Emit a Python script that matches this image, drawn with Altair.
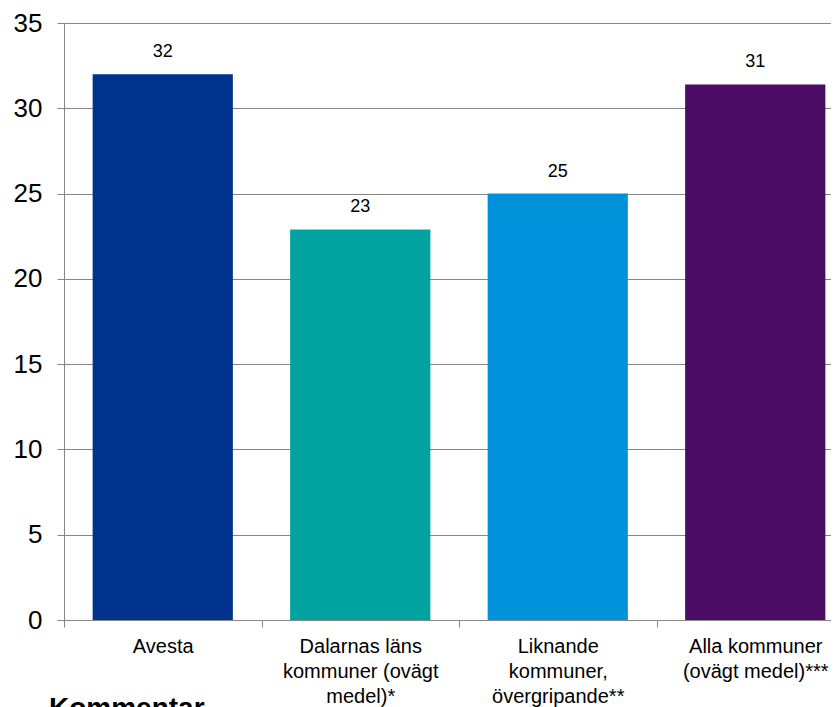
import altair as alt
import pandas as pd

categories = [
    "Avesta",
    "Dalarnas läns kommuner (ovägt medel)*",
    "Liknande kommuner, övergripande**",
    "Alla kommuner (ovägt medel)***",
]
label_lines = [
    ["Avesta"],
    ["Dalarnas läns", "kommuner (ovägt", "medel)*"],
    ["Liknande", "kommuner,", "övergripande**"],
    ["Alla kommuner", "(ovägt medel)***"],
]
values = [32.0, 22.9, 25.0, 31.4]
colors = ["#00338d", "#00a39f", "#0091db", "#4a0c64"]
y_ticks = [0, 5, 10, 15, 20, 25, 30, 35]
comment_text = "Kommentar"

df = pd.DataFrame({"kategori": categories, "varde": values})

# multi-line axis labels from label_lines
expr = "".join(
    f"datum.label == {repr(c)} ? {repr(l)} : " for c, l in zip(categories, label_lines)
) + "datum.label"

FONT = "Liberation Sans"
GRID = "#868686"

x_scale = alt.Scale(range=[0, 790], paddingInner=0, paddingOuter=0)
x_enc = alt.X(
    "kategori:N",
    sort=categories,
    scale=x_scale,
    axis=alt.Axis(
        title=None,
        labelAngle=0,
        labelExpr=expr,
        labelFont=FONT,
        labelFontSize=20,
        labelColor="#000000",
        labelLineHeight=25,
        labelPadding=9,
        labelLimit=0,
        tickBand="extent",
        tickSize=7,
        tickColor=GRID,
        domainColor=GRID,
        labelOverlap=False,
    ),
)
y_scale = alt.Scale(domain=[0, 35], nice=False, zero=True)

bars = alt.Chart(df).mark_bar(width=alt.RelativeBandSize(0.71)).encode(
    x=x_enc,
    y=alt.Y(
        "varde:Q",
        scale=y_scale,
        axis=alt.Axis(
            title=None,
            values=y_ticks,
            labelFont=FONT,
            labelFontSize=26,
            labelColor="#000000",
            labelPadding=15,
            tickSize=7,
            tickColor=GRID,
            domainColor=GRID,
            gridColor=GRID,
            grid=True,
        ),
    ),
    color=alt.Color("kategori:N", scale=alt.Scale(domain=categories, range=colors), legend=None),
)

labels = alt.Chart(df).mark_text(
    font=FONT, fontSize=18, color="#000000", baseline="alphabetic", dy=-17
).encode(
    x=alt.X("kategori:N", sort=categories, scale=x_scale),
    y=alt.Y("varde:Q", scale=y_scale),
    text=alt.Text("varde:Q", format=".0f"),
)

comment = alt.Chart(pd.DataFrame({"t": [comment_text]})).mark_text(
    font=FONT, fontSize=28, fontWeight="bold", color="#000000", align="left", baseline="alphabetic"
).encode(
    x=alt.value(-15),
    y=alt.value(694),
    text="t:N",
)

chart = (
    alt.layer(bars, labels, comment)
    .properties(
        width=767,
        height=597,
        autosize=alt.AutoSizeParams(type="none"),
        padding={"left": 56, "top": 15, "right": 0, "bottom": 87},
    )
    .configure_view(stroke=None)
    .configure_axis(gridWidth=1, domainWidth=1, tickWidth=1)
)

chart.save("out.html", embed_options={"renderer": "svg", "actions": False})
